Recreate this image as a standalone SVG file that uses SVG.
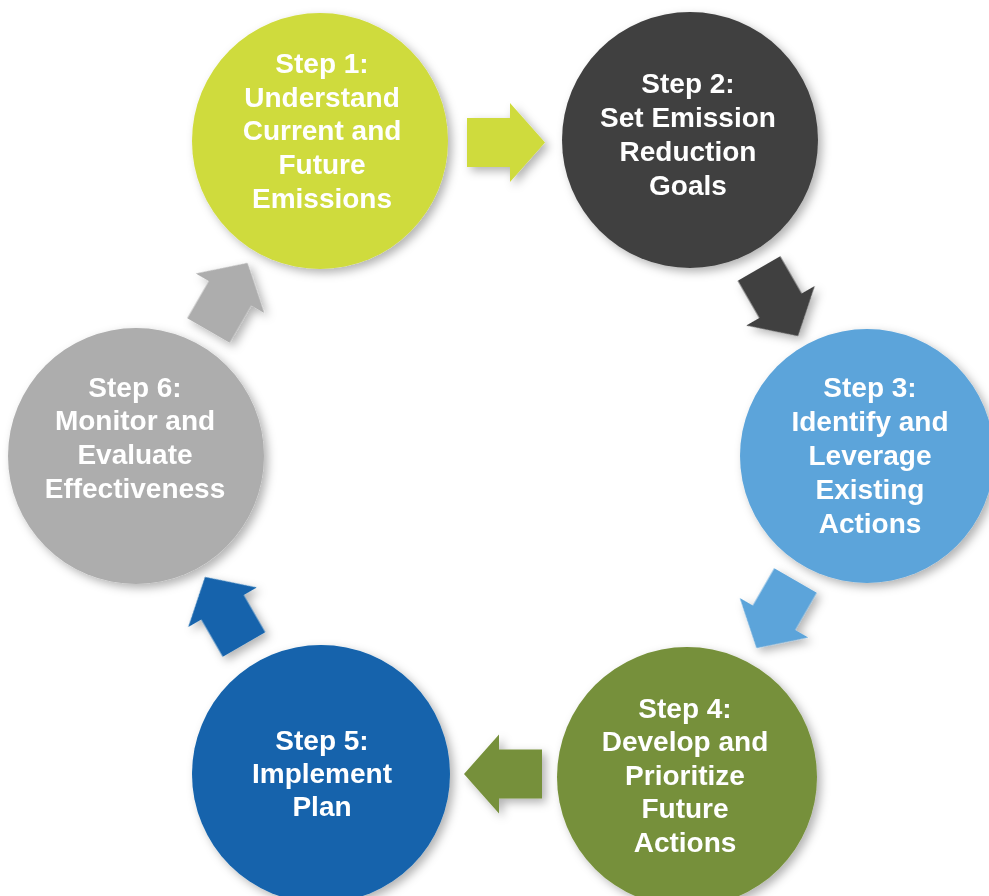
<svg xmlns="http://www.w3.org/2000/svg" xmlns:xlink="http://www.w3.org/1999/xlink" width="989" height="896" viewBox="0 0 989 896">
  <style>
    .lbl { font-family: "Liberation Sans", Arial, sans-serif; font-weight: bold; font-size: 28px; fill: #ffffff; text-anchor: middle; }
  </style>
  <defs>
    <filter id="sh" x="-30%" y="-30%" width="160%" height="160%">
      <feDropShadow dx="4" dy="4" stdDeviation="5" flood-color="#000000" flood-opacity="0.3"/>
    </filter>
    <polygon id="arrow" points="0,-24.5 43,-24.5 43,-39.5 78,0 43,39.5 43,24.5 0,24.5"/>
  </defs>
  <rect width="989" height="896" fill="#ffffff"/>

  <g id="connectors" filter="url(#sh)">
    <use xlink:href="#arrow" href="#arrow" fill="#CFDB3C" transform="translate(467,142.5)"/>
    <use xlink:href="#arrow" href="#arrow" fill="#404040" transform="translate(759,268.5) rotate(60)"/>
    <use xlink:href="#arrow" href="#arrow" fill="#5CA4DA" transform="translate(795.5,580.5) rotate(120)"/>
    <use xlink:href="#arrow" href="#arrow" fill="#76903A" transform="translate(542,774) rotate(180)"/>
    <use xlink:href="#arrow" href="#arrow" fill="#1363AC" transform="translate(244,644.5) rotate(240)"/>
    <use xlink:href="#arrow" href="#arrow" fill="#ADADAD" transform="translate(208.5,330.5) rotate(-60)"/>
  </g>

  <g id="step1">
    <circle cx="320" cy="141" r="128" fill="#CFDB3C" filter="url(#sh)"/>
    <text class="lbl" x="322" y="73">Step 1:</text>
    <text class="lbl" x="322" y="107">Understand</text>
    <text class="lbl" x="322" y="140">Current and</text>
    <text class="lbl" x="322" y="174">Future</text>
    <text class="lbl" x="322" y="208">Emissions</text>
  </g>

  <g id="step2">
    <circle cx="690" cy="140" r="128" fill="#404040" filter="url(#sh)"/>
    <text class="lbl" x="688" y="93">Step 2:</text>
    <text class="lbl" x="688" y="127">Set Emission</text>
    <text class="lbl" x="688" y="161">Reduction</text>
    <text class="lbl" x="688" y="195">Goals</text>
  </g>

  <g id="step3">
    <circle cx="867" cy="456" r="127" fill="#5CA4DA" filter="url(#sh)"/>
    <text class="lbl" x="870" y="397">Step 3:</text>
    <text class="lbl" x="870" y="431">Identify and</text>
    <text class="lbl" x="870" y="465">Leverage</text>
    <text class="lbl" x="870" y="499">Existing</text>
    <text class="lbl" x="870" y="533">Actions</text>
  </g>

  <g id="step4">
    <circle cx="687" cy="777" r="130" fill="#76903A" filter="url(#sh)"/>
    <text class="lbl" x="685" y="718">Step 4:</text>
    <text class="lbl" x="685" y="751">Develop and</text>
    <text class="lbl" x="685" y="785">Prioritize</text>
    <text class="lbl" x="685" y="818">Future</text>
    <text class="lbl" x="685" y="852">Actions</text>
  </g>

  <g id="step5">
    <circle cx="321" cy="774" r="129" fill="#1363AC" filter="url(#sh)"/>
    <text class="lbl" x="322" y="750">Step 5:</text>
    <text class="lbl" x="322" y="783">Implement</text>
    <text class="lbl" x="322" y="816">Plan</text>
  </g>

  <g id="step6">
    <circle cx="136" cy="456" r="128" fill="#ADADAD" filter="url(#sh)"/>
    <text class="lbl" x="135" y="397">Step 6:</text>
    <text class="lbl" x="135" y="430">Monitor and</text>
    <text class="lbl" x="135" y="464">Evaluate</text>
    <text class="lbl" x="135" y="498">Effectiveness</text>
  </g>
</svg>
